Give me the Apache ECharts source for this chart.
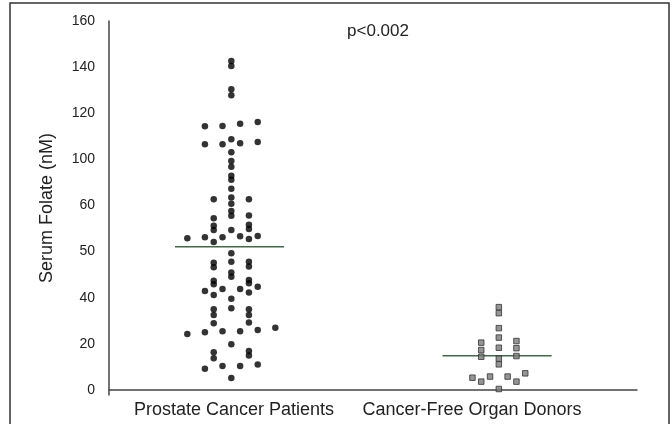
<!DOCTYPE html>
<html>
<head>
<meta charset="utf-8">
<script src="https://cdn.jsdelivr.net/npm/echarts@6/dist/echarts.min.js"></script>
<style>html,body{margin:0;padding:0;background:#fff}#c{width:672px;height:424px}</style>
</head>
<body>
<div id="c"></div>
<script>
// Tick labels as printed on the original figure (evenly spaced)
const yTickPositions = [0, 20, 40, 60, 80, 100, 120, 140, 160];
const yTickLabels = ['0', '20', '40', '50', '60', '100', '120', '140', '160'];

const categories = ['Prostate Cancer Patients', 'Cancer-Free Organ Donors'];
const groupCenters = [13.9, 44.3];
const labelPositions = [14.2, 41.25];

// [horizontal swarm offset, value on the axis scale]
const prostate = [
  [0,142.7],[0,140.5],[0,130.4],[0,127.8],
  [-3,114.4],[-1,114.5],[1,115.4],[3,116.2],
  [0,108.7],[-3,106.5],[-1,106.5],[1,107.0],[3,107.5],
  [0,103.1],[0,99.3],[0,96.8],[0,92.9],[0,91.1],[0,87.2],[0,83.4],[0,80.7],
  [-2,82.7],[2,82.7],[0,77.6],[0,75.5],[-2,74.5],[2,75.6],
  [-2,71.2],[-2,69.4],[2,71.6],[2,69.8],[0,69.4],
  [-5,65.8],[-3,66.2],[-2,64.2],[-1,66.2],[1,66.7],[2,65.5],[3,66.8],
  [0,59.3],[-2,55.2],[-2,53.2],[2,55.6],[2,53.5],[0,55.6],
  [0,50.9],[0,49.1],[-2,47.4],[-2,45.8],[2,47.7],[2,46.3],
  [-3,42.9],[-2,41.2],[-1,43.8],[1,43.8],[2,42.2],[3,44.8],
  [0,39.5],[0,35.4],[-2,35.0],[-2,32.5],[2,35.0],[2,32.5],
  [-2,28.9],[2,29.2],
  [-5,24.3],[-3,25.0],[-1,25.5],[1,25.5],[3,26.0],[5,27.0],
  [0,19.8],[-2,16.3],[-2,13.7],[2,16.9],[2,14.9],
  [-3,9.2],[-1,10.4],[1,10.4],[3,11.0],[0,5.2]
];
const donors = [
  [0,35.9],[0,33.3],[0,26.8],[0,22.7],
  [-2,20.5],[2,21.2],[0,18.3],[-2,17.3],[2,18.1],
  [-2,14.4],[2,14.7],[0,13.6],[0,11.1],
  [-3,5.3],[-2,3.6],[-1,5.8],[1,5.8],[2,3.6],[3,7.2],[0,0.4]
];
const means = [62.1, 14.85];
const meanSpan = [-6.4, 6.0];
const pValueText = 'p<0.002';

const place = (arr, c) => arr.map(d => [c + d[0], d[1]]);
const meanLine = (i) => [[groupCenters[i] + meanSpan[0], means[i]], [groupCenters[i] + meanSpan[1], means[i]]];

const FONT = 'Liberation Sans, Arial, sans-serif';
const chart = echarts.init(document.getElementById('c'));
chart.setOption({
  animation: false,
  grid: { left: 109, right: 35, top: 21, bottom: 29, containLabel: false },
  xAxis: {
    type: 'value', min: 0, max: 60,
    splitLine: { show: false },
    axisTick: { show: false },
    axisLine: { show: true, lineStyle: { color: '#444', width: 1.5 } },
    axisLabel: {
      customValues: labelPositions,
      formatter: (v) => { const i = labelPositions.indexOf(v); return i >= 0 ? categories[i] : ''; },
      color: '#222', fontSize: 18, fontFamily: FONT, margin: 6
    }
  },
  yAxis: {
    type: 'value', min: -2.2, max: 160,
    name: 'Serum Folate (nM)', nameLocation: 'middle', nameGap: 53,
    nameTextStyle: { color: '#222', fontSize: 18, fontFamily: FONT },
    splitLine: { show: false },
    axisTick: { show: false },
    axisLine: { show: true, lineStyle: { color: '#444', width: 1.5 } },
    axisLabel: {
      customValues: yTickPositions,
      formatter: (v) => { const i = yTickPositions.indexOf(v); return i >= 0 ? yTickLabels[i] : ''; },
      color: '#222', fontSize: 14, fontFamily: FONT, margin: 14
    }
  },
  graphic: [
    { type: 'rect', shape: { x: 10, y: 3, width: 659, height: 440 },
      style: { fill: 'none', stroke: '#333', lineWidth: 1.5 }, silent: true },
    { type: 'text', x: 378, y: 23, style: { text: pValueText, fill: '#222', font: '17px ' + FONT, textAlign: 'center', textVerticalAlign: 'top' } }
  ],
  series: [
    { type: 'scatter', data: place(prostate, groupCenters[0]), symbol: 'circle', symbolSize: 6.5,
      itemStyle: { color: '#000' }, z: 3 },
    { type: 'scatter', data: place(donors, groupCenters[1]), symbol: 'rect', symbolSize: 5.5,
      itemStyle: { color: '#7a7a7a', borderColor: '#333', borderWidth: 1 }, z: 3 },
    { type: 'line', data: meanLine(0), symbol: 'none', lineStyle: { color: '#3f6b46', width: 1.5 }, z: 2 },
    { type: 'line', data: meanLine(1), symbol: 'none', lineStyle: { color: '#3f6b46', width: 1.5 }, z: 2 }
  ]
});
</script>
</body>
</html>
